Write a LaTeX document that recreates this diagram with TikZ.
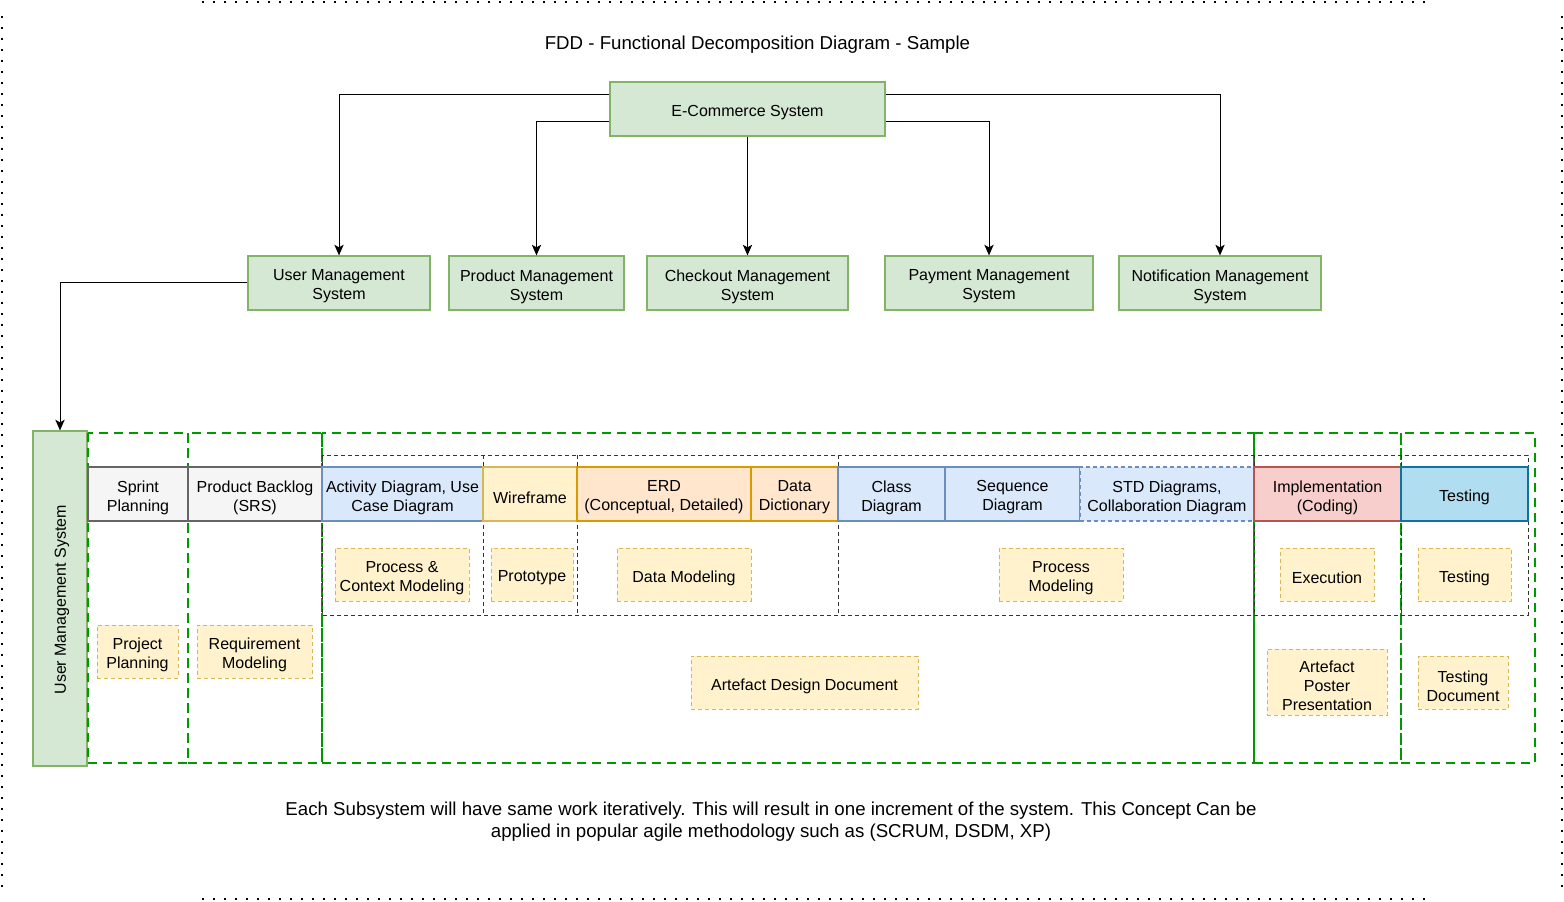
\documentclass[tikz,border=0pt]{standalone}
\usepackage{fontspec}
\setmainfont{Liberation Sans}
\usetikzlibrary{arrows.meta,calc}
\definecolor{gfill}{HTML}{D5E8D4}\definecolor{gline}{HTML}{82B366}
\definecolor{grfill}{HTML}{F5F5F5}\definecolor{grline}{HTML}{666666}
\definecolor{bfill}{HTML}{DAE8FC}\definecolor{bline}{HTML}{6C8EBF}
\definecolor{yfill}{HTML}{FFF2CC}\definecolor{yline}{HTML}{D6B656}
\definecolor{ofill}{HTML}{FFE6CC}\definecolor{oline}{HTML}{D79B00}
\definecolor{rfill}{HTML}{F8CECC}\definecolor{rline}{HTML}{B85450}
\definecolor{cfill}{HTML}{B1DDF0}\definecolor{cline}{HTML}{10739E}
\definecolor{gdashc}{HTML}{009900}
% style, name, x1, y1, x2, y2, text
\newcommand\boxn[7]{%
  \node[#1, minimum width={(#5-#3)*0.75pt}, minimum height={(#6-#4)*0.75pt}] (#2) at ({(#3+#5)/2},{(#4+#6)/2}) {};
  \node[txt] (#2-t) at ([yshift=-2.6pt]#2.center) {#7};}
\begin{document}
\begin{tikzpicture}[x=0.75pt,y=-0.75pt,
  font=\fontsize{12}{14.25}\selectfont,
  txt/.style={align=center, inner sep=0pt},
  base/.style={draw, inner sep=0pt, line width=0.9pt},
  gbox/.style={base, fill=gfill, draw=gline},
  hgray/.style={base, fill=grfill, draw=grline},
  hblue/.style={base, fill=bfill, draw=bline},
  hyel/.style={base, fill=yfill, draw=yline},
  horange/.style={base, fill=ofill, draw=oline},
  hred/.style={base, fill=rfill, draw=rline},
  hcyan/.style={base, fill=cfill, draw=cline},
  ybox/.style={base, fill=yfill, draw=yline, dash pattern=on 3pt off 2.25pt, line width=0.75pt},
  gdash/.style={draw=gdashc, line width=1.5pt, dash pattern=on 6.75pt off 4.5pt},
  kdash/.style={draw=black!80, line width=0.7pt, dash pattern=on 3pt off 2.25pt},
  dotline/.style={draw=black, line width=1.5pt, dash pattern=on 1.5pt off 6.75pt},
  bigtxt/.style={align=center, font=\fontsize{14}{16.5}\selectfont},
  conn/.style={draw=black, line width=0.75pt, -{Stealth[length=8pt,width=7pt,inset=2pt]}}]
\useasboundingbox (0,0) rectangle (1564,902);
\fill[white] (0,0) rectangle (1564,902);
% dotted page frame
\draw[dotline] (202,2) -- (1428,2);
\draw[dotline] (202,899) -- (1428,899);
\draw[dotline] (2,16) -- (2,888);
\draw[dotline] (1562,16) -- (1562,896);
% title
\node[bigtxt] (title) at (757.5,45) {FDD - Functional Decomposition Diagram - Sample};
% top boxes
\boxn{gbox}{ecom}{610}{82}{885}{136}{E-Commerce System}
\boxn{gbox}{user}{248}{256}{430}{310}{User Management\\System}
\boxn{gbox}{prod}{449}{256}{624}{310}{Product Management\\System}
\boxn{gbox}{check}{647}{256}{848}{310}{Checkout Management\\System}
\boxn{gbox}{pay}{885}{256}{1093}{310}{Payment Management\\System}
\boxn{gbox}{notif}{1119}{256}{1321}{310}{Notification Management\\System}
\boxn{gbox}{ums}{33}{431}{87}{766}{}
\node[rotate=90] (umstext) at ([xshift=1.5pt,yshift=-1pt]ums.center) {User Management System};
% connectors
\draw[conn] ([yshift=10.5pt]ecom.west) -| (user.north);
\draw[conn] ([yshift=-9.75pt]ecom.west) -| (prod.north);
\draw[conn] (ecom.south) -- (check.north);
\draw[conn] ([yshift=-9.75pt]ecom.east) -| (pay.north);
\draw[conn] ([yshift=10.5pt]ecom.east) -| (notif.north);
\draw[conn] (user.west) -| (ums.north);
% green dashed phases
\draw[gdash] (88,433) rectangle (188,763);
\draw[gdash] (188,433) rectangle (322,763);
\draw[gdash] (322,433) rectangle (1254,763);
\draw[gdash] (1254,433) rectangle (1401,763);
\draw[gdash] (1401,433) rectangle (1535,763);
% black dashed groups
\draw[kdash] (322,455) rectangle (1528,615);
\foreach \xx in {483,577,838,1254,1401} \draw[kdash] (\xx,455) -- (\xx,615);
% header row
\boxn{hgray}{sprint}{88}{467}{188}{521}{Sprint\\Planning}
\boxn{hgray}{backlog}{188}{467}{322}{521}{Product Backlog\\(SRS)}
\boxn{hblue}{activity}{322}{467}{483}{521}{Activity Diagram, Use\\Case Diagram}
\boxn{hyel}{wire}{483}{467}{577}{521}{Wireframe}
\boxn{horange}{erd}{577}{467}{751}{521}{ERD\\(Conceptual, Detailed)}
\boxn{horange}{dd}{751}{467}{838}{521}{Data\\Dictionary}
\boxn{hblue}{class}{838}{467}{945}{521}{Class\\Diagram}
\boxn{hblue}{seq}{945}{467}{1080}{521}{Sequence\\Diagram}
\boxn{hblue, dash pattern=on 3pt off 2.25pt}{std}{1080}{467}{1254}{521}{STD Diagrams,\\Collaboration Diagram}
\boxn{hred}{impl}{1254}{467}{1401}{521}{Implementation\\(Coding)}
\boxn{hcyan}{test}{1401}{467}{1528}{521}{Testing}
% artefact boxes
\boxn{ybox}{pcm}{335}{548}{469}{601}{Process \&\\Context Modeling}
\boxn{ybox}{proto}{491}{548}{573}{601}{Prototype}
\boxn{ybox}{datam}{617}{548}{751}{601}{Data Modeling}
\boxn{ybox}{procm}{999}{548}{1123}{601}{Process\\Modeling}
\boxn{ybox}{exec}{1280}{548}{1374}{601}{Execution}
\boxn{ybox}{testing}{1418}{548}{1511}{601}{Testing}
\boxn{ybox}{projp}{97}{625}{178}{678}{Project\\Planning}
\boxn{ybox}{reqm}{197}{625}{312}{678}{Requirement\\Modeling}
\boxn{ybox}{add}{691}{656}{918}{709}{Artefact Design Document}
\boxn{ybox}{app}{1267}{649}{1387}{715}{Artefact\\Poster\\Presentation}
\boxn{ybox}{tdoc}{1418}{656}{1508}{709}{Testing\\Document}
% footer
\node[bigtxt] (footer) at (771,822) {Each Subsystem will have same work iteratively. This will result in one increment of the system. This Concept Can be\\applied in popular agile methodology such as (SCRUM, DSDM, XP)};
\end{tikzpicture}
\end{document}
